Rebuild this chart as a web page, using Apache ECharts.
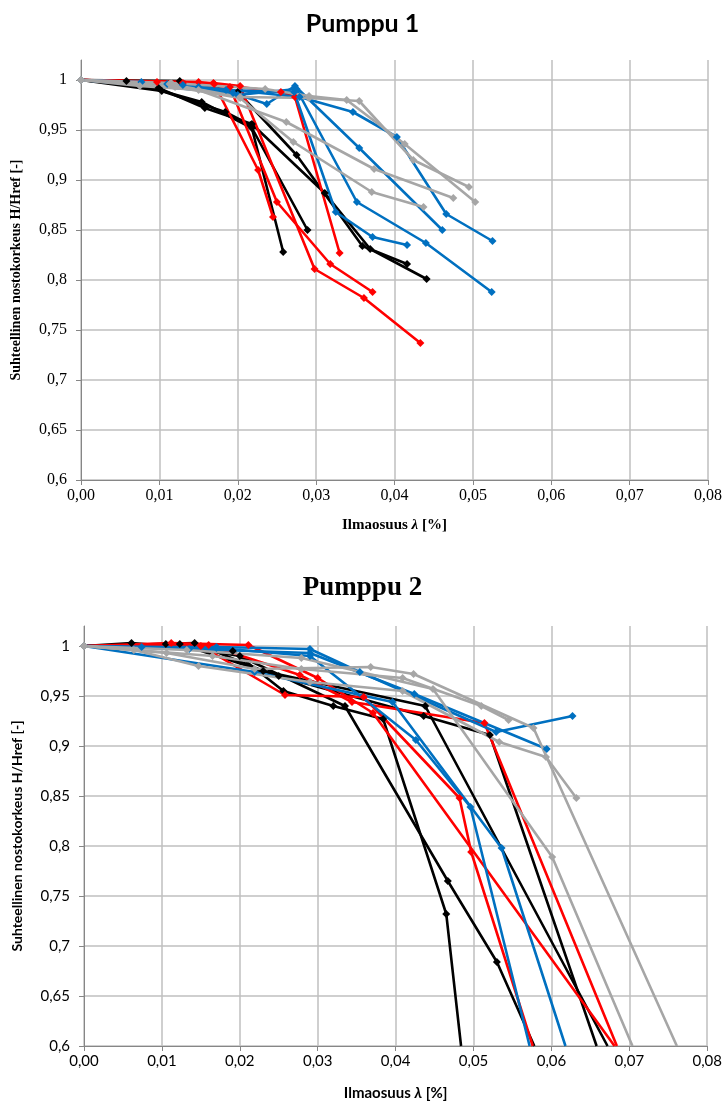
<!DOCTYPE html>
<html>
<head>
<meta charset="utf-8">
<script src="https://cdn.jsdelivr.net/npm/echarts@6/dist/echarts.min.js"></script>
<style>html,body{margin:0;padding:0;background:#fff}#c{width:725px;height:1104px}</style>
</head>
<body>
<div id="c"></div>
<script>
// ---------- Data (x = Ilmaosuus, y = H/Href) ----------
const titles = ['Pumppu 1', 'Pumppu 2'];
const yAxisTitle = 'Suhteellinen nostokorkeus H/Href [-]';
const xTickLabels = ['0,00','0,01','0,02','0,03','0,04','0,05','0,06','0,07','0,08'];
const yTickLabels = ['0,6','0,65','0,7','0,75','0,8','0,85','0,9','0,95','1'];

// Pumppu 1
const p1Black1 = [[0,1],[0.0058,0.999],[0.0154,0.978],[0.0218,0.952],[0.0258,0.828]];
const p1Black2 = [[0,1],[0.0103,0.989],[0.0184,0.968],[0.0216,0.955],[0.0289,0.85]];
const p1Black3 = [[0,1],[0.0099,0.992],[0.0158,0.972],[0.0218,0.956],[0.0311,0.887],[0.0369,0.831],[0.0441,0.801]];
const p1Black4 = [[0,1],[0.0126,0.999],[0.02,0.988],[0.0275,0.925],[0.0359,0.834],[0.0416,0.816]];
const p1Red1 = [[0,1],[0.0097,0.998],[0.017,0.996],[0.0226,0.91],[0.0245,0.863]];
const p1Red2 = [[0,1],[0.013,0.997],[0.019,0.993],[0.025,0.878],[0.0318,0.816],[0.0372,0.788]];
const p1Red3 = [[0,1],[0.0169,0.997],[0.0203,0.994],[0.0298,0.811],[0.0361,0.782],[0.0433,0.737]];
const p1Red4 = [[0,1],[0.015,0.998],[0.0255,0.988],[0.0273,0.983],[0.033,0.827]];
const p1Blue1 = [[0,1],[0.0077,0.998],[0.013,0.995],[0.0279,0.983],[0.0347,0.968],[0.0403,0.943],[0.0466,0.866],[0.0525,0.839]];
const p1Blue2 = [[0,1],[0.0194,0.987],[0.0237,0.976],[0.0273,0.994],[0.0355,0.932],[0.0461,0.85]];
const p1Blue3 = [[0,1],[0.015,0.993],[0.02,0.985],[0.0275,0.991],[0.0352,0.878],[0.044,0.837],[0.0524,0.788]];
const p1Blue4 = [[0,1],[0.011,0.996],[0.0185,0.99],[0.0272,0.988],[0.0325,0.868],[0.0372,0.843],[0.0416,0.835]];
const p1Gray1 = [[0,1],[0.0115,0.997],[0.0235,0.991],[0.0291,0.984],[0.0339,0.98],[0.0413,0.936],[0.0503,0.878]];
const p1Gray2 = [[0,1],[0.0113,0.996],[0.0203,0.983],[0.0291,0.982],[0.0355,0.979],[0.0424,0.92],[0.0495,0.893]];
const p1Gray3 = [[0,1],[0.0075,0.994],[0.015,0.99],[0.0262,0.958],[0.0374,0.911],[0.0475,0.882]];
const p1Gray4 = [[0,1],[0.012,0.993],[0.0203,0.982],[0.0271,0.938],[0.0371,0.888],[0.0437,0.873]];

// Pumppu 2 (points at 0.6 = where the line leaves the plot, drawn without marker)
const p2Black1 = [[0,1],[0.0061,1.003],[0.0191,0.995],[0.0256,0.955],[0.032,0.94],[0.0384,0.927],[0.0465,0.732],[0.0484,0.6]];
const p2Black2 = [[0,1],[0.0105,1.002],[0.02,0.99],[0.0335,0.94],[0.0467,0.765],[0.053,0.684],[0.0578,0.6]];
const p2Black3 = [[0,1],[0.0142,1.003],[0.023,0.975],[0.0438,0.94],[0.0672,0.6]];
const p2Black4 = [[0,1],[0.0123,1.002],[0.025,0.97],[0.0436,0.93],[0.0521,0.911],[0.0658,0.6]];
const p2Red1 = [[0,1],[0.0112,1.003],[0.0211,1.001],[0.03,0.968],[0.0371,0.933],[0.0681,0.6]];
const p2Red2 = [[0,1],[0.015,1.0],[0.0258,0.951],[0.0359,0.949],[0.0482,0.848],[0.0497,0.794],[0.0576,0.6]];
const p2Red3 = [[0,1],[0.016,1.001],[0.0277,0.971],[0.0344,0.944],[0.0514,0.923],[0.0684,0.6]];
const p2Blue1 = [[0,1],[0.0074,0.999],[0.017,0.999],[0.029,0.997],[0.0354,0.974],[0.0529,0.914],[0.0627,0.93]];
const p2Blue2 = [[0,1],[0.0135,0.997],[0.029,0.993],[0.0424,0.952],[0.0594,0.897]];
const p2Blue3 = [[0,1],[0.0219,0.974],[0.0396,0.944],[0.0536,0.798],[0.0618,0.6]];
const p2Blue4 = [[0,1],[0.017,0.998],[0.029,0.99],[0.0426,0.906],[0.0496,0.839],[0.0572,0.6]];
const p2Gray1 = [[0,1],[0.0064,0.996],[0.0147,0.98],[0.029,0.964],[0.0409,0.955],[0.0533,0.904],[0.0593,0.889],[0.0632,0.848]];
const p2Gray2 = [[0,1],[0.0106,0.993],[0.0219,0.977],[0.0368,0.979],[0.0423,0.972],[0.0577,0.918],[0.0761,0.6]];
const p2Gray3 = [[0,1],[0.0132,0.996],[0.0279,0.988],[0.0448,0.957],[0.0601,0.789],[0.0704,0.6]];
const p2Gray4 = [[0,1],[0.0165,0.99],[0.0279,0.977],[0.0409,0.968],[0.051,0.94],[0.0545,0.926]];

// ---------- Styling / build ----------
const COLORS = {black:'#000000', red:'#ff0000', blue:'#0070c0', gray:'#a6a6a6'};
const panel1 = [
  ['black',p1Black1],['black',p1Black2],['black',p1Black3],['black',p1Black4],
  ['red',p1Red1],['red',p1Red2],['red',p1Red3],['red',p1Red4],
  ['blue',p1Blue1],['blue',p1Blue2],['blue',p1Blue3],['blue',p1Blue4],
  ['gray',p1Gray1],['gray',p1Gray2],['gray',p1Gray3],['gray',p1Gray4]
];
const panel2 = [
  ['black',p2Black1],['black',p2Black2],['black',p2Black3],['black',p2Black4],
  ['red',p2Red1],['red',p2Red2],['red',p2Red3],
  ['blue',p2Blue1],['blue',p2Blue2],['blue',p2Blue3],['blue',p2Blue4],
  ['gray',p2Gray1],['gray',p2Gray2],['gray',p2Gray3],['gray',p2Gray4]
];

function mkSeries(list, idx){
  return list.map(([c, pts]) => ({
    type:'line', xAxisIndex:idx, yAxisIndex:idx,
    data: pts.map(p => p[1] <= 0.6 ? {value:p, symbol:'none'} : {value:p}),
    symbol:'diamond', symbolSize:8, showAllSymbol:true,
    lineStyle:{color:COLORS[c], width:2.6},
    itemStyle:{color:COLORS[c]},
    clip:true, animation:false, z: 2
  }));
}

const gridCol = '#bfbfbf';
const splitCols = Array(9).fill(gridCol).concat(['rgba(0,0,0,0)']);
function fmtX(v){ const i = Math.round(v*100); return xTickLabels[i] !== undefined ? xTickLabels[i] : ''; }
function fmtY(v){ if (v > 1.001) return ''; const i = Math.round((v-0.6)/0.05); return yTickLabels[i] !== undefined ? yTickLabels[i] : ''; }

function xAx(idx, font, nameFont, size, nameGap){
  return {
    type:'value', gridIndex:idx, min:0, max:0.08, interval:0.01,
    axisLine:{show:true, lineStyle:{color:'#868686', width:1}},
    axisTick:{show:true, length:5, lineStyle:{color:'#868686'}},
    splitLine:{show:true, lineStyle:{color:gridCol, width:1.5}},
    axisLabel:{formatter:fmtX, color:'#000', fontFamily:font, fontSize:size, margin:8},
    name:'Ilmaosuus {i|λ} [%]', nameLocation:'middle', nameGap:nameGap,
    nameTextStyle:{fontFamily:nameFont, fontWeight:'bold', fontSize:15, color:'#000',
      rich:{i:{fontFamily:nameFont, fontWeight:'bold', fontStyle:'italic', fontSize:15, color:'#000'}}}
  };
}
function yAx(idx, font, nameFont, size, nameGap){
  return {
    type:'value', gridIndex:idx, min:0.6, max:1.02, interval:0.05,
    axisLine:{show:true, lineStyle:{color:'#868686', width:1}},
    axisTick:{show:true, length:5, lineStyle:{color:'#868686'}},
    splitLine:{show:true, lineStyle:{color:splitCols, width:1.5}},
    axisLabel:{formatter:fmtY, color:'#000', fontFamily:font, fontSize:size, margin:14, showMaxLabel:false},
    name:yAxisTitle, nameLocation:'middle', nameGap:nameGap, nameRotate:90,
    nameTextStyle:{fontFamily:nameFont, fontWeight:'bold', fontSize:14, color:'#000'}
  };
}

const SERIF = 'Liberation Serif';
const SANS = 'Lato';

const option = {
  backgroundColor:'#fff',
  animation:false,
  title:[
    {text:titles[0], left:'center', top:6, textStyle:{fontFamily:SANS, fontWeight:'bold', fontSize:25, color:'#000'}},
    {text:titles[1], left:'center', top:570, textStyle:{fontFamily:SERIF, fontWeight:'bold', fontSize:27, color:'#000'}}
  ],
  grid:[
    {left:81, top:60, width:627, height:420, containLabel:false},
    {left:84, top:626, width:624, height:420, containLabel:false}
  ],
  xAxis:[xAx(0, SERIF, SERIF, 16, 38), xAx(1, SANS, SANS, 15, 40)],
  yAxis:[yAx(0, SERIF, SERIF, 16, 58), yAx(1, SANS, SANS, 15, 60)],
  series: mkSeries(panel1, 0).concat(mkSeries(panel2, 1))
};

const chart = echarts.init(document.getElementById('c'), null, {renderer:'canvas'});
chart.setOption(option);
</script>
</body>
</html>
